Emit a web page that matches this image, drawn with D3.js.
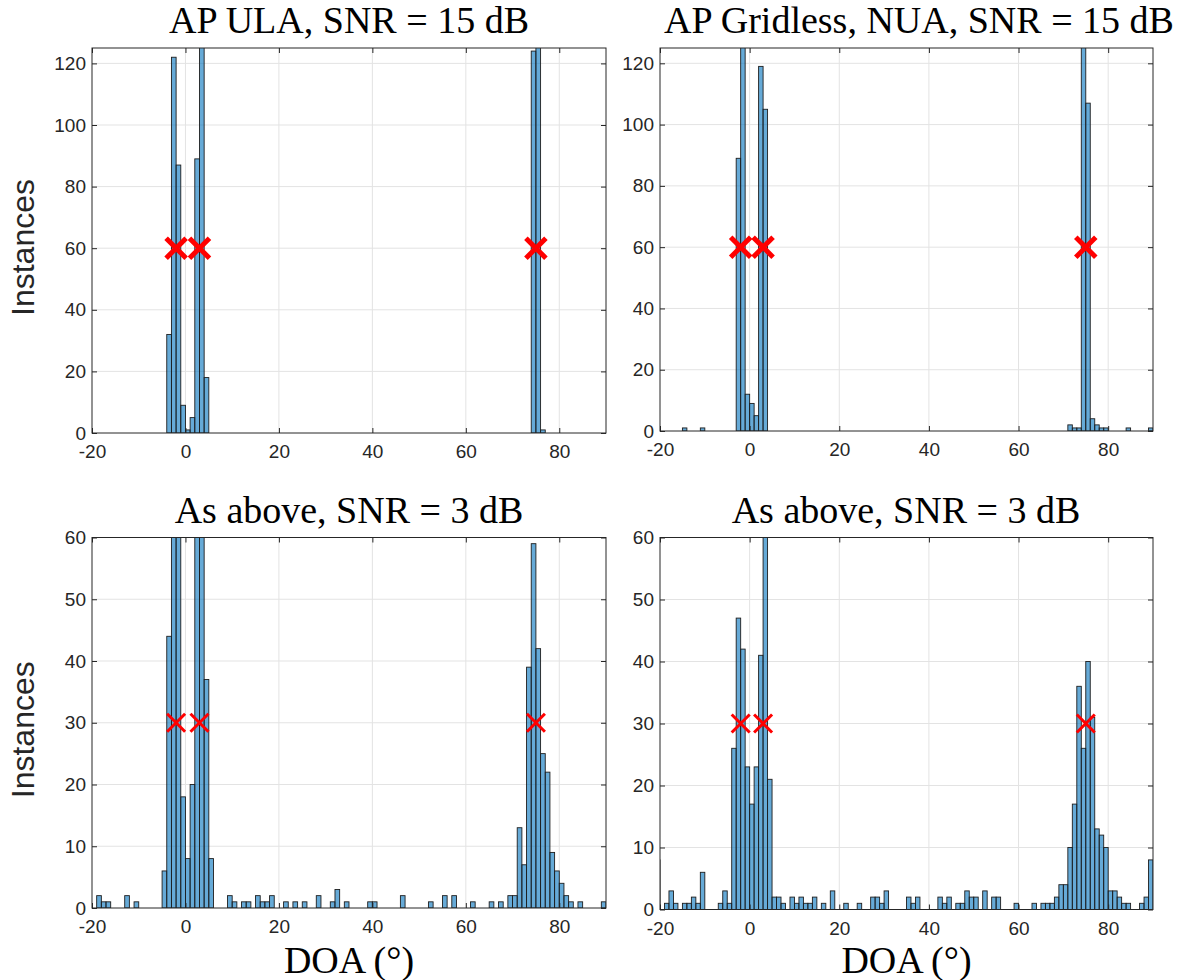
<!DOCTYPE html>
<html>
<head>
<meta charset="utf-8">
<script src="https://cdn.jsdelivr.net/npm/d3@7"></script>
<style>
  body { margin: 0; background: #fff; }
  svg { display: block; }
  .tick text { font-family: "Liberation Sans", Arial, sans-serif; font-size: 19px; fill: #262626; }
  .tick line { stroke: #262626; }
</style>
</head>
<body>
<script>
// histogram data, one bin = [start, start+1) degrees
var xTicks = [-20, 0, 20, 40, 60, 80];
var yTicksHigh = [0, 20, 40, 60, 80, 100, 120];
var yTicksLow = [0, 10, 20, 30, 40, 50, 60];
var trueDoas = [-2, 3, 75];

var titles = ["AP ULA, SNR = 15 dB", "AP Gridless, NUA, SNR = 15 dB", "As above, SNR = 3 dB", "As above, SNR = 3 dB"];

var ulaHighBins   = [-4, -3, -2, -1, 0, 1, 2, 3, 4, 74, 75, 76];
var ulaHighCounts = [32, 122, 87, 9, 1, 5, 89, 140, 18, 124, 126, 1];

var nuaHighBins   = [-15, -11, -3, -2, -1, 0, 1, 2, 3, 71, 72, 73, 74, 75, 76, 77, 78, 79, 84, 89];
var nuaHighCounts = [1, 1, 89, 140, 12, 9, 5, 119, 105, 2, 1, 1, 135, 107, 4, 2, 1, 1, 1, 1];

var ulaLowBins   = [-19, -18, -17, -13, -11, -5, -4, -3, -2, -1, 0, 1, 2, 3, 4, 5, 9, 10, 12, 13, 15, 16, 17, 18, 21, 23, 25, 28, 31, 32,
                    34, 39, 40, 46, 52, 55, 57, 61, 65, 67, 69, 70, 71, 72, 73, 74, 75, 76, 77, 78, 79, 80, 81, 82, 84, 89];
var ulaLowCounts = [2, 1, 1, 2, 1, 6, 44, 75, 68, 18, 8, 20, 78, 64, 37, 8, 2, 1, 1, 1, 2, 1, 1, 2, 1, 1, 1, 2, 1, 3,
                    1, 1, 1, 2, 1, 2, 2, 1, 1, 1, 2, 2, 13, 7, 39, 59, 42, 25, 22, 9, 6, 4, 2, 1, 1, 1];

var nuaLowBins   = [-21, -19, -18, -17, -15, -14, -13, -12, -11, -7, -6, -5, -4, -3, -2, -1, 0, 1, 2, 3, 4, 5, 6, 7, 9,
                    10, 11, 12, 13, 14, 16, 18, 21, 24, 27, 28, 29, 30, 35, 36, 37, 42, 43, 44, 46, 47, 48, 49, 50, 52,
                    54, 55, 59, 63, 65, 66, 67, 68, 69, 70, 71, 72, 73, 74, 75, 76, 77, 78, 79, 80, 81, 82, 83, 84, 87, 88, 89];
var nuaLowCounts = [8, 1, 3, 1, 1, 1, 2, 1, 6, 1, 3, 1, 26, 47, 42, 23, 17, 23, 41, 62, 21, 2, 2, 1, 2,
                    1, 2, 1, 1, 2, 1, 3, 1, 1, 2, 2, 1, 3, 2, 1, 2, 2, 1, 2, 1, 1, 3, 2, 2, 3,
                    2, 2, 1, 1, 1, 1, 1, 2, 4, 4, 10, 17, 36, 26, 40, 31, 13, 12, 10, 3, 3, 2, 1, 1, 1, 2, 8];

var W = 1183, H = 980;
var svg = d3.select("body").append("svg").attr("width", W).attr("height", H);

var serif = "'Liberation Serif', 'DejaVu Serif', serif";

var panels = [
  {bins: ulaHighBins, counts: ulaHighCounts, yTicks: yTicksHigh, yMax: 125, crossY: 60, box: [92, 606, 48, 433], big: true, titleX: 349},
  {bins: nuaHighBins, counts: nuaHighCounts, yTicks: yTicksHigh, yMax: 125, crossY: 60, box: [660, 1153, 48, 431], big: true, titleX: 919},
  {bins: ulaLowBins, counts: ulaLowCounts, yTicks: yTicksLow, yMax: 60, crossY: 30, box: [92, 606, 537.5, 908], big: false, titleX: 349},
  {bins: nuaLowBins, counts: nuaLowCounts, yTicks: yTicksLow, yMax: 60, crossY: 30, box: [660, 1153, 537.5, 909.5], big: false, titleX: 906}
];

var drawPanel = function(p, i) {
  var l = p.box[0], r = p.box[1], t = p.box[2], b = p.box[3];
  var x = d3.scaleLinear().domain([-20, 90]).range([l, r]);
  var y = d3.scaleLinear().domain([0, p.yMax]).range([b, t]);
  var g = svg.append("g");

  var clipId = "clip" + i;
  svg.append("clipPath").attr("id", clipId)
    .append("rect").attr("x", l).attr("y", t).attr("width", r - l).attr("height", b - t);

  // grid
  g.selectAll(".vgrid").data(xTicks.filter(function(d){ return d > -20; }))
    .enter().append("line")
    .attr("x1", function(d){ return x(d); }).attr("x2", function(d){ return x(d); })
    .attr("y1", t).attr("y2", b)
    .attr("stroke", "#e3e3e3").attr("stroke-width", 1);
  g.selectAll(".hgrid").data(p.yTicks.filter(function(d){ return d > 0; }))
    .enter().append("line")
    .attr("x1", l).attr("x2", r)
    .attr("y1", function(d){ return y(d); }).attr("y2", function(d){ return y(d); })
    .attr("stroke", "#e3e3e3").attr("stroke-width", 1);

  // bars
  var data = p.bins.map(function(d, k){ return {bin: d, n: p.counts[k]}; });
  g.append("g").attr("clip-path", "url(#" + clipId + ")")
    .selectAll("rect").data(data).enter().append("rect")
    .attr("x", function(d){ return x(d.bin); })
    .attr("width", function(d){ return x(d.bin + 1) - x(d.bin); })
    .attr("y", function(d){ return y(d.n); })
    .attr("height", function(d){ return y(0) - y(d.n); })
    .attr("fill", "#0072BD").attr("fill-opacity", 0.6)
    .attr("stroke", "#1e1e1e").attr("stroke-width", 0.9);

  // axes, ticks pointing inward
  g.append("g").attr("transform", "translate(0," + b + ")")
    .call(d3.axisBottom(x).tickValues(xTicks).tickSize(-5).tickPadding(12).tickFormat(function(d){ return String(d); }))
    .call(function(s){ s.select(".domain").remove(); });
  g.append("g").attr("transform", "translate(0," + t + ")")
    .call(d3.axisTop(x).tickValues(xTicks).tickSize(-5).tickFormat(""))
    .call(function(s){ s.select(".domain").remove(); });
  g.append("g").attr("transform", "translate(" + l + ",0)")
    .call(d3.axisLeft(y).tickValues(p.yTicks).tickSize(-5).tickPadding(6))
    .call(function(s){ s.select(".domain").remove(); });
  g.append("g").attr("transform", "translate(" + r + ",0)")
    .call(d3.axisRight(y).tickValues(p.yTicks).tickSize(-5).tickFormat(""))
    .call(function(s){ s.select(".domain").remove(); });

  g.append("rect").attr("x", l).attr("y", t).attr("width", r - l).attr("height", b - t)
    .attr("fill", "none").attr("stroke", "#262626").attr("stroke-width", 1);

  // true DOA markers
  var half = p.big ? 10 : 9;
  g.selectAll(".cross").data(trueDoas).enter().append("path")
    .attr("d", function(d){
      var cx = x(d), cy = y(p.crossY);
      return "M" + (cx - half) + "," + (cy - half) + "L" + (cx + half) + "," + (cy + half) +
             "M" + (cx - half) + "," + (cy + half) + "L" + (cx + half) + "," + (cy - half);
    })
    .attr("stroke", "#ff0000").attr("stroke-width", p.big ? 5 : 3).attr("fill", "none");

  // title
  g.append("text").attr("x", p.titleX).attr("y", t - 15)
    .attr("text-anchor", "middle")
    .style("font-family", serif).style("font-size", "38px")
    .text(titles[i]);

  if (i % 2 == 0) {
    g.append("text")
      .attr("transform", "translate(34," + ((t + b) / 2 + 7) + ") rotate(-90)")
      .attr("text-anchor", "middle")
      .style("font-family", "'Liberation Sans', Arial, sans-serif").style("font-size", "32px")
      .attr("fill", "#262626")
      .text("Instances");
  }
  if (i >= 2) {
    g.append("text").attr("x", (l + r) / 2).attr("y", 973)
      .attr("text-anchor", "middle")
      .style("font-family", serif).style("font-size", "38px")
      .text("DOA (°)");
  }
};

panels.forEach(drawPanel);
</script>
</body>
</html>
